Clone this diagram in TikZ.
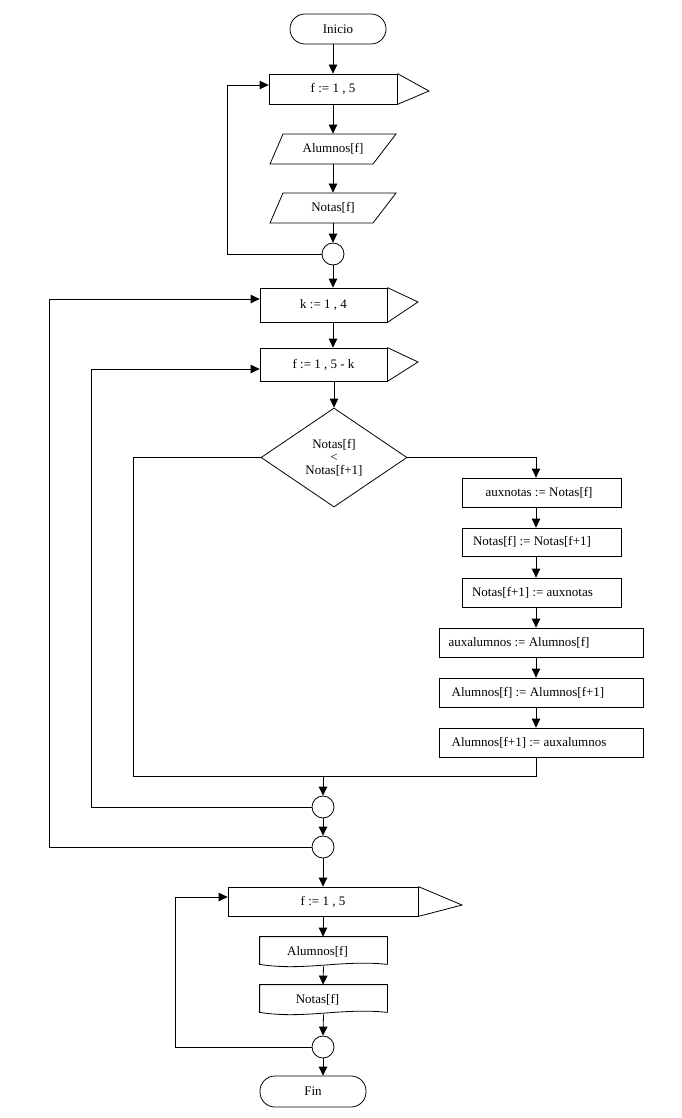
\documentclass[tikz,border=0pt]{standalone}
\usepackage{fontspec}
\setmainfont{Liberation Serif}
\usetikzlibrary{arrows.meta,shapes.geometric,calc}
\begin{document}
\begin{tikzpicture}[x=1pt,y=-1pt,
  font=\fontsize{13}{14}\selectfont,
  line width=0.8pt,
  arr/.style={-{Triangle[length=9pt,width=8.5pt]}},
  box/.style={draw, rectangle, inner sep=0pt, align=center},
  term/.style={draw, rectangle, rounded corners=15pt, inner sep=0pt},
  conn/.style={draw, circle, minimum size=22pt, inner sep=0pt},
  lbl/.style={inner sep=0pt, align=center},
  dmd/.style={draw, diamond, inner sep=0pt, align=center}]
\useasboundingbox (0,0) rectangle (682,1118);

% ---- first loop ----
\node[term, minimum width=96pt, minimum height=30pt] (ini) at (338,29) {Inicio};
\node[box, minimum width=128pt, minimum height=30pt] (l1) at (333,89) {f := 1 , 5};
\coordinate (t1) at (429,91);
\draw (l1.north east) -- (t1) -- (l1.south east);
\node[lbl, minimum width=100pt, minimum height=30pt] (a1) at (333,149) {Alumnos[f]};
\draw (283,134) -- (396,134) -- (373,164) -- (270,164) -- cycle;
\node[lbl, minimum width=100pt, minimum height=30pt] (n1) at (333,208) {Notas[f]};
\draw (283,193) -- (396,193) -- (373,223) -- (270,223) -- cycle;
\node[conn] (c1) at (333,254) {};

\draw[arr] (ini.south -| l1.north) -- (l1.north);
\draw[arr] (l1.south) -- (a1.north);
\draw[arr] (a1.south) -- (n1.north);
\draw[arr] (n1.south) -- (c1.north);
\draw[arr] (c1.west) -- (227,254) -- (227,85) -- ($(l1.west)+(0,-4)$);

% ---- sorting loops ----
\node[box, minimum width=127pt, minimum height=34pt] (k) at (323.5,305) {k := 1 , 4};
\coordinate (t2) at (418,302);
\draw (k.north east) -- (t2) -- (k.south east);
\node[box, minimum width=127pt, minimum height=33pt] (f2) at (323.5,364.5) {f := 1 , 5 - k};
\coordinate (t3) at (418,362);
\draw (f2.north east) -- (t3) -- (f2.south east);
\node[dmd, minimum width=146pt, minimum height=99pt] (dm) at (334,457.5) {Notas[f]\\[-1pt]<\\[-1pt]Notas[f+1]};

\draw[arr] (c1.south) -- (c1.south |- k.north);
\draw[arr] (k.south -| c1) -- (f2.north -| c1);
\draw[arr] (f2.south -| dm.north) -- (dm.north);

\node[box, minimum width=159pt, minimum height=29pt, label={[lbl, xshift=-2.5pt]center:{auxnotas := Notas[f]}}] (x1) at (541.5,492.5) {};
\node[box, minimum width=159pt, minimum height=28pt, label={[lbl, xshift=-9.5pt]center:{Notas[f] := Notas[f+1]}}] (x2) at (541.5,542) {};
\node[box, minimum width=159pt, minimum height=29pt, label={[lbl, xshift=-9pt]center:{Notas[f+1] := auxnotas}}] (x3) at (541.5,592.5) {};
\node[box, minimum width=204pt, minimum height=29pt, label={[lbl, xshift=-22pt]center:{auxalumnos := Alumnos[f]}}] (x4) at (541,642.5) {};
\node[box, minimum width=204pt, minimum height=29pt, label={[lbl, xshift=-13pt]center:{Alumnos[f] := Alumnos[f+1]}}] (x5) at (541,692.5) {};
\node[box, minimum width=204pt, minimum height=29pt, label={[lbl, xshift=-12pt]center:{Alumnos[f+1] := auxalumnos}}] (x6) at (541,742.5) {};

\coordinate (r1) at (536,457.5);
\draw[arr] (dm.east) -- (r1) -- (r1 |- x1.north);
\draw[arr] (x1.south -| r1) -- (x2.north -| r1);
\draw[arr] (x2.south -| r1) -- (x3.north -| r1);
\draw[arr] (x3.south -| r1) -- (x4.north -| r1);
\draw[arr] (x4.south -| r1) -- (x5.north -| r1);
\draw[arr] (x5.south -| r1) -- (x6.north -| r1);

\coordinate (j1) at (536,776);
\coordinate (j0) at (323,776);
\coordinate (j2) at (133,776);
\draw (x6.south -| r1) -- (j1) -- (j2) -- (133,457.5) -- (dm.west);

\node[conn] (c2) at (323,807) {};
\node[conn] (c3) at (323,847) {};
\draw[arr] (j0) -- (c2.north);
\draw[arr] (c2.south) -- (c3.north);
\draw[arr] (c2.west) -- (91,807) -- (91,369) -- ($(f2.west)+(0,4.5)$);
\draw[arr] (c3.west) -- (49,847) -- (49,299) -- ($(k.west)+(0,-6)$);

% ---- output loop ----
\node[box, minimum width=190pt, minimum height=29pt] (l3) at (323,901.5) {f := 1 , 5};
\coordinate (t4) at (462,905);
\draw (l3.north east) -- (t4) -- (l3.south east);
\node[lbl, minimum width=127pt, minimum height=27pt, label={[lbl, xshift=-6pt, yshift=-1pt]center:{Alumnos[f]}}] (d1) at (323.5,950.5) {};
\draw (d1.south east) -- (d1.north east) -- (d1.north west) -- (d1.south west)
  .. controls +(45,7) and +(-45,-5) .. (d1.south east);
\node[lbl, minimum width=127pt, minimum height=27pt, label={[lbl, xshift=-6pt, yshift=-1pt]center:{Notas[f]}}] (d2) at (323.5,998.5) {};
\draw (d2.south east) -- (d2.north east) -- (d2.north west) -- (d2.south west)
  .. controls +(45,7) and +(-45,-5) .. (d2.south east);
\node[conn] (c4) at (323,1047) {};
\node[term, minimum width=106pt, minimum height=31pt] (fin) at (313,1091.5) {Fin};

\draw[arr] (c3.south) -- (l3.north);
\draw[arr] (l3.south) -- (l3.south |- d1.north);
\draw[arr] ($(d1.south)+(0,2)$) -- (l3.south |- d2.north);
\draw[arr] ($(d2.south)+(0,2)$) -- (c4.north);
\draw[arr] (c4.south) -- (c4.south |- fin.north);
\draw[arr] (c4.west) -- (175,1047) -- (175,897) -- ($(l3.west)+(0,-4.5)$);
\end{tikzpicture}
\end{document}
